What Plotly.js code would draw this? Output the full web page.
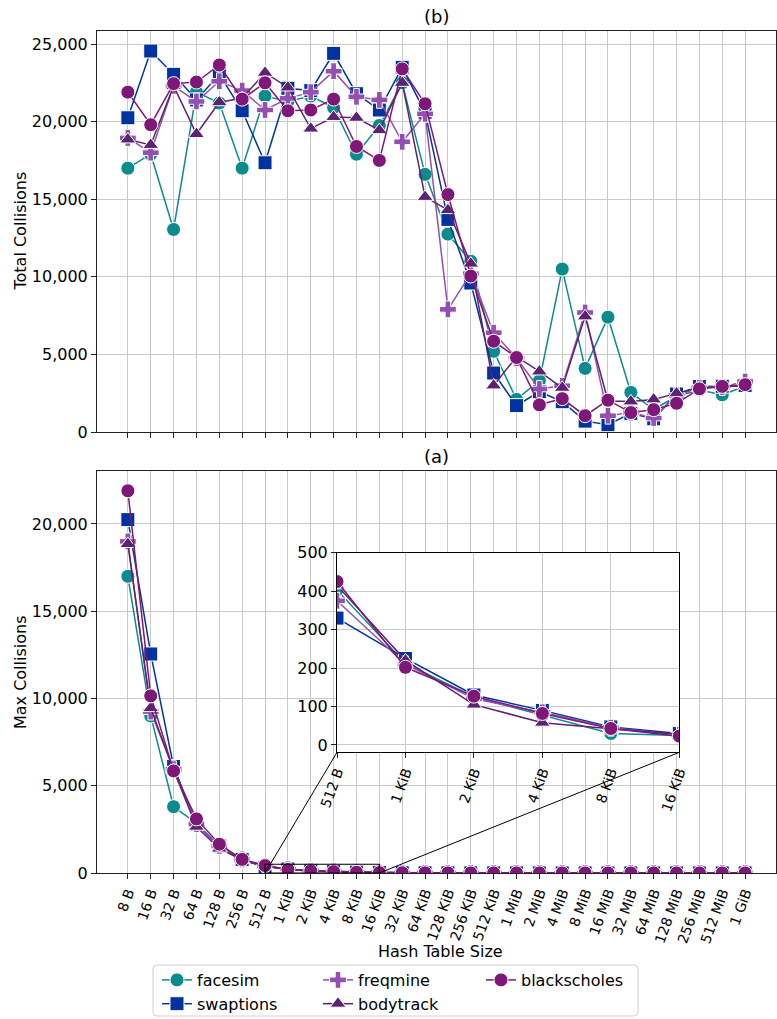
<!DOCTYPE html>
<html>
<head>
<meta charset="utf-8">
<script src="https://cdn.plot.ly/plotly-3.0.1.min.js"></script>
<style>html,body{margin:0;padding:0;background:#fff;}</style>
</head>
<body>
<div id="chart" style="width:777px;height:1019px;"></div>
<script>
// ---------- data ----------
const categories = ['8 B','16 B','32 B','64 B','128 B','256 B','512 B','1 KiB','2 KiB','4 KiB','8 KiB','16 KiB',
  '32 KiB','64 KiB','128 KiB','256 KiB','512 KiB','1 MiB','2 MiB','4 MiB','8 MiB','16 MiB','32 MiB','64 MiB',
  '128 MiB','256 MiB','512 MiB','1 GiB'];
const insetCategories = ['512 B','1 KiB','2 KiB','4 KiB','8 KiB','16 KiB'];

// (b) Total collisions
const totalFacesim      = [17000,17900,13050,21900,21200,17000,21650,21300,21650,20900,17900,19750,22500,16600,12750,11000,5200,2100,3300,10500,4100,7400,2550,1450,2300,2700,2400,2950];
const totalSwaptions    = [20250,24550,23050,21400,23050,20700,17350,22150,22000,24400,21800,20750,23500,20600,13700,9600,3800,1700,2600,1950,700,470,1200,850,2450,2930,2950,3000];
const totalFreqmine     = [18950,18000,22300,21300,22600,22000,20750,21500,21900,23250,21600,21400,18700,20500,7900,10200,6400,4750,2770,2980,7700,1050,1250,900,2350,2850,2900,3250];
const totalBodytrack    = [18850,18500,22300,19200,21250,21500,23150,22200,19550,20300,20250,19450,22500,15150,14300,10850,3000,4850,3900,2850,7450,2000,1970,2100,2490,2850,2900,3000];
const totalBlackscholes = [21900,19800,22450,22550,23650,21450,22500,20700,20750,21450,18400,17500,23400,21150,15300,10050,5850,4800,1750,2150,1050,2050,1250,1440,1850,2780,2940,3050];

// (a) Max collisions
const maxFacesim      = [17000,9000,3800,2850,1500,700,403,212,125,78,30,25,14,9,7,5,4,4,3,3,3,3,3,2,2,2,2,2];
const maxSwaptions    = [20250,12550,6100,2800,1550,780,330,225,130,90,47,30,17,11,8,6,5,4,4,3,3,3,3,3,3,3,3,3];
const maxFreqmine     = [19000,9250,5950,2800,1550,780,375,210,120,85,45,26,15,10,7,6,5,4,4,3,3,3,3,3,3,3,3,3];
const maxBodytrack    = [18850,9450,5900,2650,1400,760,415,220,105,58,42,28,16,10,8,6,5,4,4,3,3,3,3,3,3,3,3,3];
const maxBlackscholes = [21900,10150,5850,3100,1650,780,425,202,127,82,43,23,14,9,7,5,4,4,3,3,3,3,3,3,3,3,3,3];

const seriesNames = ['facesim','swaptions','freqmine','bodytrack','blackscholes'];
const totalSeries = [totalFacesim,totalSwaptions,totalFreqmine,totalBodytrack,totalBlackscholes];
const maxSeries   = [maxFacesim,maxSwaptions,maxFreqmine,maxBodytrack,maxBlackscholes];

const topTicks   = [0,5000,10000,15000,20000,25000];
const botTicks   = [0,5000,10000,15000,20000];
const insetTicks = [0,100,200,300,400,500];

// ---------- style ----------
const colors  = ['#0b8b8b','#0033a0','#9350b0','#5b2372','#7f1778'];
const symbols = ['circle','square','cross','triangle-up','circle'];
const legendIds = ['legend','legend','legend2','legend2','legend3'];
const FONT = 'DejaVu Sans, Verdana, sans-serif';
const GRID = '#c9c9c9';
const LINE = '#222222';

const W = 777, H = 1019, ML = 97, MR = 1, MT = 31, MB = 146;
const PW = W - ML - MR, PH = H - MT - MB;
const px2x = p => (p - ML) / PW;
const py2y = p => (H - MB - p) / PH;

const xRange = [-1.35, 28.35];
const topDom = [py2y(432), 1];
const botDom = [0, py2y(471)];
const yTopRange = [0, 25840];
const yBotRange = [0, 23035];
const insetXDom = [px2x(337), px2x(679.3)];
const insetYDom = [py2y(752.3), py2y(552.7)];
const insetYRange = [-19, 500];
const insetStart = categories.indexOf('512 B');
const insetEnd = categories.indexOf('16 KiB');

const traces = [];
seriesNames.forEach((name, i) => {
  const mk = {color: colors[i], symbol: symbols[i], size: 14, line: {color: '#ffffff', width: 1}};
  const ln = {color: colors[i], width: 1.5};
  traces.push({x: categories, y: totalSeries[i], name: name, type: 'scatter', mode: 'lines+markers',
    xaxis: 'x', yaxis: 'y', marker: mk, line: ln, showlegend: false});
  traces.push({x: categories, y: maxSeries[i], name: name, type: 'scatter', mode: 'lines+markers',
    xaxis: 'x2', yaxis: 'y2', marker: mk, line: ln, showlegend: true, legend: legendIds[i]});
  traces.push({x: insetCategories, y: maxSeries[i].slice(insetStart, insetEnd + 1), name: name, type: 'scatter',
    mode: 'lines+markers', xaxis: 'x3', yaxis: 'y3', marker: mk, line: ln, showlegend: false});
});

const baseAxis = {
  showline: true, mirror: true, linecolor: LINE, linewidth: 1,
  ticks: 'outside', ticklen: 5, tickcolor: LINE, tickwidth: 1,
  showgrid: true, gridcolor: GRID, gridwidth: 1, zeroline: false, automargin: false,
  tickfont: {family: FONT, size: 16, color: '#000'}
};
const xTickFont = {family: FONT, size: 14, color: '#000'};

// connector lines: inset corners expressed in x2/y2 data coordinates
const xAt = p => xRange[0] + p * (xRange[1] - xRange[0]);
const y2At = p => yBotRange[0] + (p - botDom[0]) / (botDom[1] - botDom[0]) * (yBotRange[1] - yBotRange[0]);
const lgL = px2x(153), lgR = px2x(638), lgT = py2y(965), lgB = py2y(1016);
const rx = 4 / PW, ry = 4 / PH;
const legendPath = `M ${lgL+rx},${lgT} L ${lgR-rx},${lgT} Q ${lgR},${lgT} ${lgR},${lgT-ry} L ${lgR},${lgB+ry} Q ${lgR},${lgB} ${lgR-rx},${lgB} L ${lgL+rx},${lgB} Q ${lgL},${lgB} ${lgL},${lgB+ry} L ${lgL},${lgT-ry} Q ${lgL},${lgT} ${lgL+rx},${lgT} Z`;

const shapes = [
  {type: 'rect', xref: 'x2', yref: 'y2', x0: insetStart, x1: insetEnd, y0: 0, y1: insetYRange[1],
   line: {color: '#000', width: 1.2}, fillcolor: 'rgba(0,0,0,0)'},
  {type: 'line', xref: 'x2', yref: 'y2', x0: insetStart, y0: 0, x1: xAt(insetXDom[0]), y1: y2At(insetYDom[0]),
   line: {color: '#000', width: 1}},
  {type: 'line', xref: 'x2', yref: 'y2', x0: insetEnd, y0: 0, x1: xAt(insetXDom[1]), y1: y2At(insetYDom[0]),
   line: {color: '#000', width: 1}},
  {type: 'path', xref: 'paper', yref: 'paper', path: legendPath, line: {color: '#d0d0d0', width: 1}, fillcolor: 'rgba(255,255,255,0.8)'}
];

const legendBase = {orientation: 'v', xref: 'container', yref: 'container', xanchor: 'left', yanchor: 'top',
  y: 1 - 963/H, bgcolor: 'rgba(0,0,0,0)', borderwidth: 0, font: {family: FONT, size: 16, color: '#000'}};

const titleFont = {family: FONT, size: 16, color: '#000'};
const layout = {
  width: W, height: H,
  margin: {l: ML, r: MR, t: MT, b: MB, autoexpand: false},
  paper_bgcolor: '#fff', plot_bgcolor: '#fff',
  font: {family: FONT, size: 16, color: '#000'},
  xaxis: Object.assign({}, baseAxis, {domain: [0,1], anchor: 'y', type: 'category', categoryorder: 'array',
    categoryarray: categories, range: xRange, showticklabels: false}),
  yaxis: Object.assign({}, baseAxis, {domain: topDom, anchor: 'x', range: yTopRange, tickvals: topTicks,
    tickformat: ',d'}),
  xaxis2: Object.assign({}, baseAxis, {domain: [0,1], anchor: 'y2', type: 'category', categoryorder: 'array',
    categoryarray: categories, range: xRange, tickangle: -70, tickfont: xTickFont}),
  yaxis2: Object.assign({}, baseAxis, {domain: botDom, anchor: 'x2', range: yBotRange, tickvals: botTicks,
    tickformat: ',d'}),
  xaxis3: Object.assign({}, baseAxis, {domain: insetXDom, anchor: 'y3', type: 'category', categoryorder: 'array',
    categoryarray: insetCategories, range: [0, insetCategories.length - 1], tickangle: -70,
    tickfont: xTickFont, linecolor: '#000'}),
  yaxis3: Object.assign({}, baseAxis, {domain: insetYDom, anchor: 'x3', range: insetYRange, tickvals: insetTicks,
    tickformat: 'd', linecolor: '#000'}),
  legend:  Object.assign({}, legendBase, {x: 157/W}),
  legend2: Object.assign({}, legendBase, {x: 318/W}),
  legend3: Object.assign({}, legendBase, {x: 481/W}),
  shapes: shapes,
  annotations: [
    {text: '(b)', xref: 'paper', yref: 'paper', x: 0.5, y: 1, yshift: 2, xanchor: 'center', yanchor: 'bottom',
     showarrow: false, font: {family: FONT, size: 18, color: '#000'}},
    {text: '(a)', xref: 'paper', yref: 'paper', x: 0.5, y: botDom[1], yshift: 2, xanchor: 'center', yanchor: 'bottom',
     showarrow: false, font: {family: FONT, size: 18, color: '#000'}},
    {text: 'Total Collisions', xref: 'paper', yref: 'paper', x: px2x(20), y: (topDom[0] + topDom[1]) / 2,
     xanchor: 'center', yanchor: 'middle', textangle: -90, showarrow: false, font: titleFont},
    {text: 'Max Collisions', xref: 'paper', yref: 'paper', x: px2x(20), y: (botDom[0] + botDom[1]) / 2,
     xanchor: 'center', yanchor: 'middle', textangle: -90, showarrow: false, font: titleFont},
    {text: 'Hash Table Size', xref: 'paper', yref: 'paper', x: px2x(440), y: py2y(951),
     xanchor: 'center', yanchor: 'middle', showarrow: false, font: titleFont}
  ]
};

Plotly.newPlot('chart', traces, layout, {displayModeBar: false, staticPlot: true});
</script>
</body>
</html>
